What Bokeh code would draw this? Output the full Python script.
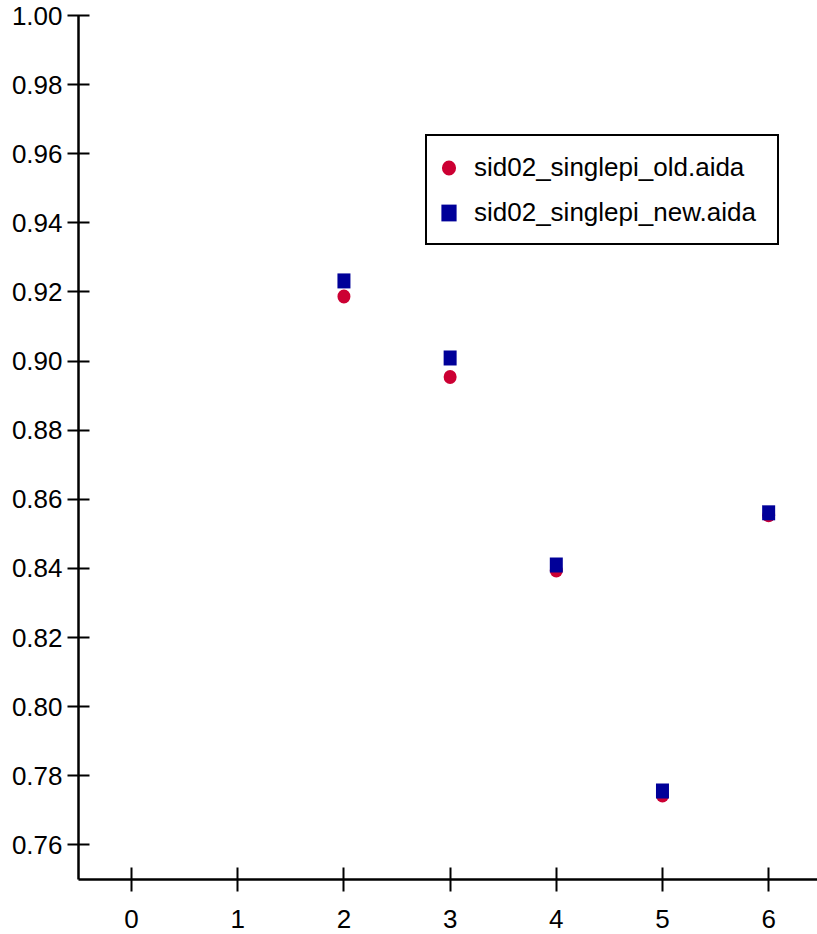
from bokeh.plotting import figure
from bokeh.models import (Range1d, FixedTicker, Legend, LegendItem, LinearAxis,
                          CustomJSTickFormatter)
from bokeh.embed import file_html
from bokeh.resources import INLINE

# Efficiency per bin for the two samples
bins_old = [2, 3, 4, 5, 6]
eff_old = [0.9187, 0.8954, 0.8394, 0.7743, 0.8554]
bins_new = [2, 3, 4, 5, 6]
eff_new = [0.9232, 0.9009, 0.8410, 0.7756, 0.8561]

x_ticks = [0, 1, 2, 3, 4, 5, 6]
y_ticks = [0.76, 0.78, 0.80, 0.82, 0.84, 0.86, 0.88, 0.90, 0.92, 0.94, 0.96, 0.98, 1.00]

label_old = "sid02_singlepi_old.aida"
label_new = "sid02_singlepi_new.aida"

X_START, X_END = -0.5, 6.46
Y_START, Y_END = 0.75, 1.00

RED = "#cc0033"
BLUE = "#000099"
FONT = "Liberation Sans"

p = figure(width=817, height=934, output_backend="svg", toolbar_location=None,
           x_range=Range1d(X_START, X_END), y_range=Range1d(Y_START, Y_END),
           min_border_left=78, min_border_right=0, min_border_top=15,
           min_border_bottom=55, x_axis_type=None, y_axis_type=None)
p.outline_line_color = None
p.background_fill_color = "white"
p.border_fill_color = "white"
p.xgrid.visible = False
p.ygrid.visible = False

xaxis = LinearAxis(ticker=FixedTicker(ticks=x_ticks))
yaxis = LinearAxis(ticker=FixedTicker(ticks=y_ticks),
                   formatter=CustomJSTickFormatter(code="return tick.toFixed(2);"))

for ax in (xaxis, yaxis):
    ax.axis_line_color = "black"
    ax.axis_line_width = 2.5
    ax.major_tick_line_color = "black"
    ax.major_tick_line_width = 2
    ax.minor_tick_line_color = None
    ax.major_label_text_font = FONT
    ax.major_label_text_font_size = "26px"
    ax.major_label_text_color = "black"

xaxis.major_tick_in = 12
xaxis.major_tick_out = 12
xaxis.major_label_standoff = 18
yaxis.major_tick_in = 11
yaxis.major_tick_out = 11
yaxis.major_label_standoff = 5

p.add_layout(xaxis, "below")
p.add_layout(yaxis, "left")

r_old = p.ellipse(bins_old, eff_old, width=13, height=14,
                  width_units="screen", height_units="screen",
                  fill_color=RED, line_color=None)
r_new = p.rect(bins_new, eff_new, width=13, height=15,
               width_units="screen", height_units="screen",
               fill_color=BLUE, line_color=None)

legend = Legend(items=[LegendItem(label=label_old, renderers=[r_old]),
                       LegendItem(label=label_new, renderers=[r_new])],
                location=(347, 634))
legend.border_line_color = "black"
legend.border_line_width = 2
legend.border_line_alpha = 1
legend.background_fill_color = "white"
legend.background_fill_alpha = 1
legend.padding = 12
legend.spacing = 7
legend.margin = 0
legend.glyph_width = 19
legend.glyph_height = 21
legend.label_standoff = 16
legend.label_width = 291
legend.label_height = 38
legend.label_text_font = FONT
legend.label_text_font_size = "26px"
legend.label_text_color = "black"
p.add_layout(legend)

open("out.html", "w").write(file_html(p, INLINE))
